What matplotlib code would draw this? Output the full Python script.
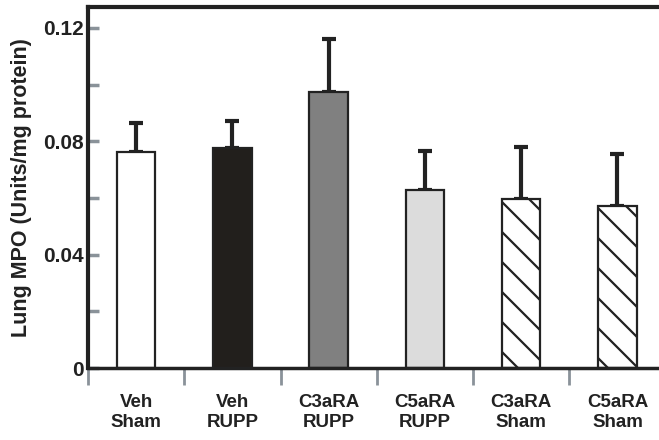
import matplotlib.pyplot as plt
import numpy as np

# Data
groups = ['Veh\nSham', 'Veh\nRUPP', 'C3aRA\nRUPP', 'C5aRA\nRUPP', 'C3aRA\nSham', 'C5aRA\nSham']
mpo = [0.0762, 0.0777, 0.0974, 0.0628, 0.0595, 0.0572]
sem = [0.0104, 0.0095, 0.0187, 0.0138, 0.0184, 0.0183]
colors = ['white', '#221f1c', '#808080', '#dcdcdc', 'white', 'white']
hatches = ['', '', '', '', '\\', '\\']

# dpi 90 so the hatch spacing comes out ~15 px; sizes scaled back up by k
DPI = 90
k = 100 / DPI

plt.rcParams['font.family'] = ['Liberation Sans', 'DejaVu Sans']
plt.rcParams['font.weight'] = 'bold'
plt.rcParams['hatch.linewidth'] = 1.6 * k

dark = '#222222'
grey = '#8a9299'

fig = plt.figure(figsize=(659 / DPI, 440 / DPI), dpi=DPI)
ax = fig.add_axes([88 / 659, (440 - 368) / 440, 1 - 88 / 659 + 0.01, (368 - 7) / 440])

x = np.arange(len(groups))
bars = ax.bar(x, mpo, width=0.4, color=colors, edgecolor=dark, linewidth=1.6 * k, zorder=2)
for b, h in zip(bars, hatches):
    b.set_hatch(h)
ax.errorbar(x, mpo, yerr=[np.zeros(len(sem)), sem], fmt='none', ecolor=dark,
            elinewidth=3 * k, capsize=5 * k, capthick=3 * k, zorder=1)

ax.set_xlim(-0.5, 5.45)
ax.set_ylim(0, 0.1274)

# y ticks: inward, grey
ax.set_yticks([0, 0.04, 0.08, 0.12])
ax.set_yticklabels(['0', '0.04', '0.08', '0.12'])
ax.set_yticks([0.02, 0.06, 0.10], minor=True)
ax.tick_params(axis='y', which='both', direction='in', length=8 * k, width=2.5 * k, color=grey,
               labelsize=15 * k, labelcolor=dark, pad=3 * k)

# x ticks at group boundaries, labels at bar centers
ax.set_xticks(np.arange(-0.5, 6, 1.0))
ax.set_xticklabels([])
ax.tick_params(axis='x', which='major', direction='out', length=12 * k, width=2 * k, color=grey)
ax.set_xticks(x, minor=True)
ax.set_xticklabels(groups, minor=True)
ax.tick_params(axis='x', which='minor', length=0, labelsize=13.5 * k, labelcolor=dark, pad=19 * k)

ax.set_ylabel('Lung MPO (Units/mg protein)', fontsize=15.5 * k, fontweight='bold',
              color=dark, labelpad=8 * k)

for s in ['left', 'top']:
    ax.spines[s].set_linewidth(3 * k)
    ax.spines[s].set_color(dark)
ax.spines['bottom'].set_linewidth(2.5 * k)
ax.spines['bottom'].set_color(dark)
ax.spines['right'].set_visible(False)

fig.savefig('out.png', dpi=DPI)
